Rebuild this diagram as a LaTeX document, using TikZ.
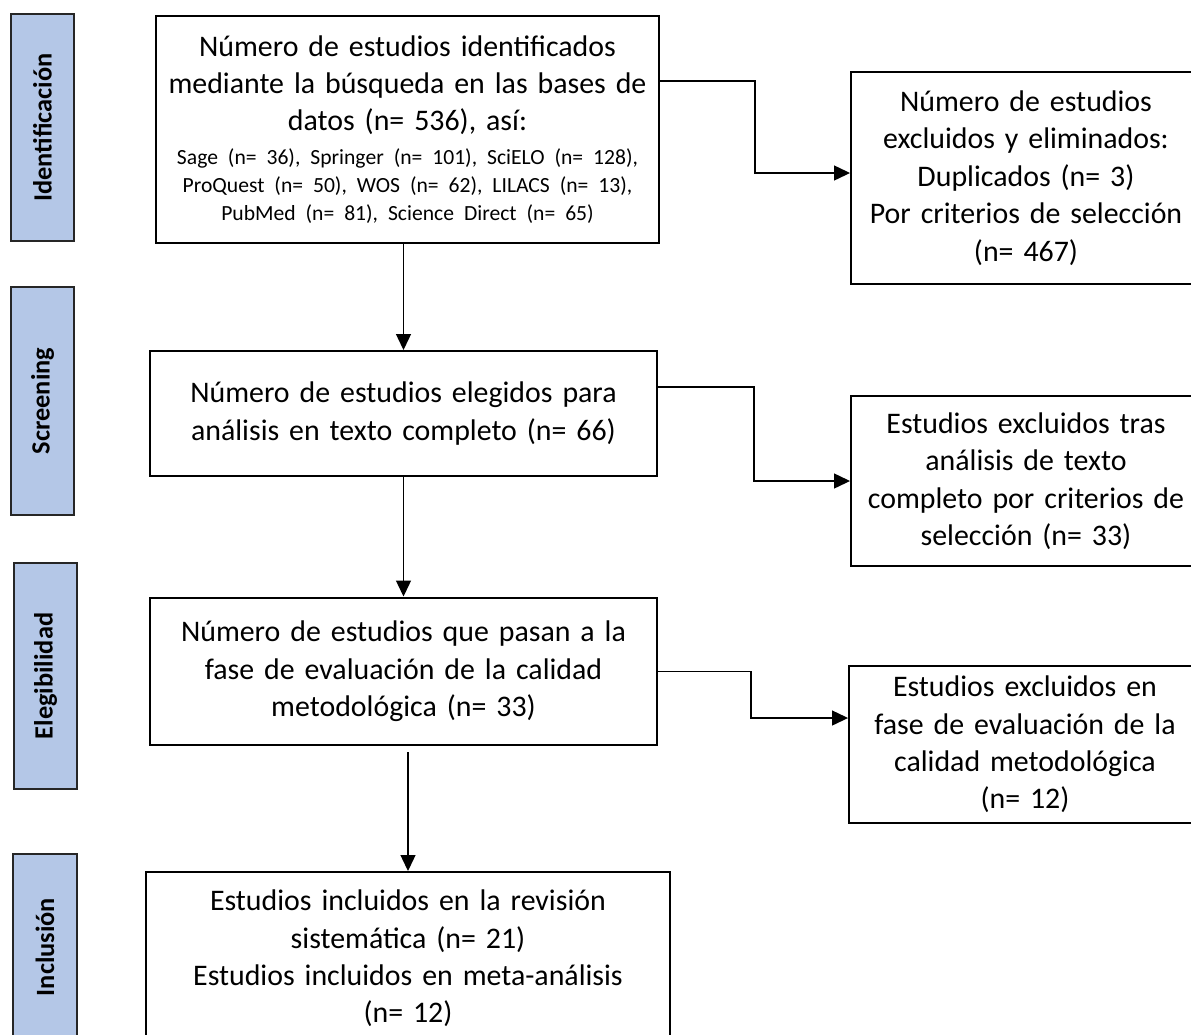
\documentclass[tikz,border=0pt]{standalone}
\usepackage{fontspec}
\setmainfont{Carlito}
\usetikzlibrary{arrows.meta}
\definecolor{phaseblue}{HTML}{B4C7E7}
\tikzstyle{study box}=[draw, line width=0.04cm, align=center, inner xsep=0.1cm, inner ysep=0, font=\fontsize{17}{21.3}\selectfont]
\tikzstyle{phase bar}=[draw=black!85, fill=phaseblue, line width=0.03cm, rotate=90, inner sep=0, font=\fontsize{15}{18}\selectfont\bfseries]
\tikzstyle{flow arrow}=[line width=0.026cm, -{Triangle[length=0.32cm, width=0.3cm]}]
\newcommand{\dbfont}{\fontsize{12.3}{16}\selectfont}

\begin{document}
\begin{tikzpicture}[x=0.02cm, y=-0.02cm]
    \useasboundingbox (0,0) rectangle (1191,1035);
    \clip (0,0) rectangle (1191,1035);

    % phases
    \node[phase bar, minimum width=4.54cm, minimum height=1.26cm] (phase_id) at (42.5, 127.5) {Identificación};
    \node[phase bar, minimum width=4.56cm, minimum height=1.26cm] (phase_screen) at (42.5, 401) {Screening};
    \node[phase bar, minimum width=4.52cm, minimum height=1.26cm] (phase_elig) at (45.5, 676) {Elegibilidad};
    \node[phase bar, minimum width=3.72cm, minimum height=1.28cm] (phase_incl) at (45, 947) {Inclusión};

    % main column
    \node[study box, text width=9.86cm, minimum height=4.54cm] (search) at (407.5, 129.5)
      {Número de estudios identificados\\ mediante la búsqueda en las bases de\\ datos (n= 536), así:\par\vspace{3pt}
       \centering\dbfont Sage (n= 36), Springer (n= 101), SciELO (n= 128),\\ ProQuest (n= 50), WOS (n= 62), LILACS (n= 13),\\ PubMed (n= 81), Science Direct (n= 65)\par};
    \node[study box, text width=9.94cm, minimum height=2.5cm] (screened) at (403.5, 413.5)
      {Número de estudios elegidos para\\ análisis en texto completo (n= 66)};
    \node[study box, text width=9.94cm, minimum height=2.96cm] (assessed) at (403.5, 671.5)
      {Número de estudios que pasan a la\\ fase de evaluación de la calidad\\ metodológica (n= 33)};
    \node[study box, text width=10.28cm, minimum height=3.46cm] (included) at (408, 958.5)
      {Estudios incluidos en la revisión\\ sistemática (n= 21)\\ Estudios incluidos en meta-análisis\\ (n= 12)};

    % exclusions
    \node[study box, text width=6.8cm, minimum height=4.24cm] (excl_dup) at (1026, 178)
      {Número de estudios\\ excluidos y eliminados:\\ Duplicados (n= 3)\\ Por criterios de selección\\ (n= 467)};
    \node[study box, text width=6.8cm, minimum height=3.4cm] (excl_text) at (1026, 481)
      {Estudios excluidos tras\\ análisis de texto\\ completo por criterios de\\ selección (n= 33)};
    \node[study box, text width=6.84cm, minimum height=3.14cm] (excl_quality) at (1025, 744.5)
      {Estudios excluidos en\\ fase de evaluación de la\\ calidad metodológica\\ (n= 12)};

    \draw[flow arrow] (search.south -| screened.north) -- (screened.north);
    \draw[flow arrow] (screened.south) -- (assessed.north);
    \draw[flow arrow, shorten <=0.12cm] (assessed.south -| included.north) -- (included.north);

    \draw[flow arrow] ([yshift=0.97cm]search.east) -- ++(95,0) |- ([yshift=0.1cm]excl_dup.west);
    \draw[flow arrow] ([yshift=0.53cm]screened.east) -- ++(96,0) |- (excl_text.west);
    \draw[flow arrow] (assessed.east) -- ++(93,0) |- ([yshift=0.53cm]excl_quality.west);
\end{tikzpicture}
\end{document}
